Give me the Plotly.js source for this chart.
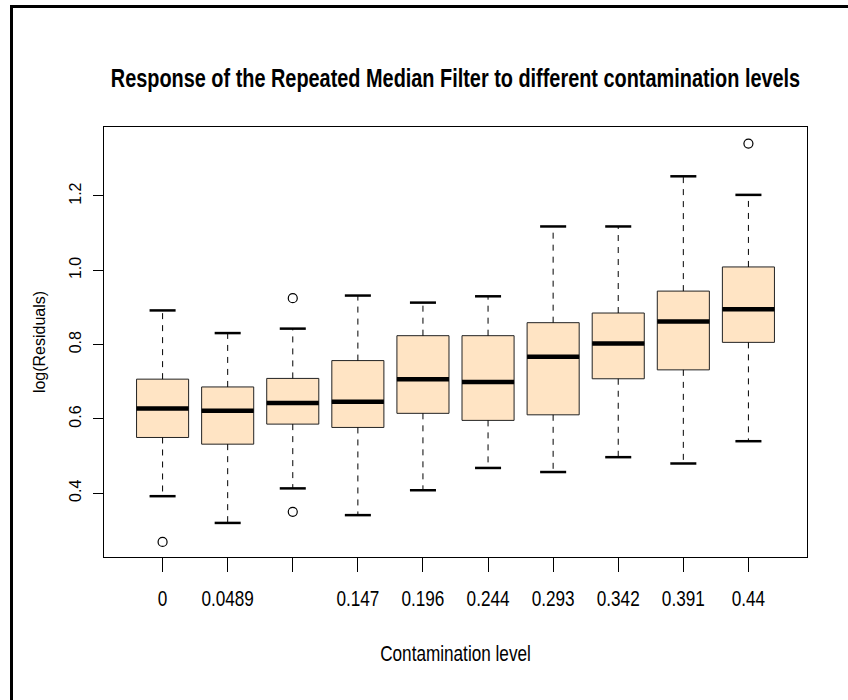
<!DOCTYPE html>
<html>
<head>
<meta charset="utf-8">
<script src="https://cdn.plot.ly/plotly-3.0.1.min.js"></script>
<style>
  html, body { margin: 0; padding: 0; background: #ffffff; }
  #wrap { position: relative; width: 848px; height: 700px; overflow: hidden; }
  #frame { position: absolute; left: 10px; top: 5px; width: 900px; height: 760px;
           border-left: 3px solid #000; border-top: 3px solid #000; pointer-events: none; }
  #chart { position: absolute; left: 0; top: 0; width: 848px; height: 700px; }
</style>
</head>
<body>
<div id="wrap">
  <div id="chart"></div>
  <div id="frame"></div>
</div>
<script>
// ---- data ----
const categories   = ['0', '0.0489', '0.0978', '0.147', '0.196', '0.244', '0.293', '0.342', '0.391', '0.44'];
const tickLabels   = ['0', '0.0489', '', '0.147', '0.196', '0.244', '0.293', '0.342', '0.391', '0.44'];
const lowerWhisker = [0.392, 0.320, 0.413, 0.341, 0.408, 0.468, 0.457, 0.497, 0.480, 0.540];
const q1           = [0.550, 0.532, 0.586, 0.577, 0.615, 0.596, 0.611, 0.708, 0.732, 0.806];
const median       = [0.628, 0.622, 0.643, 0.646, 0.707, 0.699, 0.767, 0.803, 0.862, 0.895];
const q3           = [0.707, 0.686, 0.709, 0.757, 0.824, 0.824, 0.859, 0.885, 0.944, 1.009];
const upperWhisker = [0.892, 0.831, 0.843, 0.932, 0.913, 0.930, 1.118, 1.118, 1.253, 1.203];
const outlierGroup = [0, 2, 2, 9];
const outlierValue = [0.269, 0.925, 0.350, 1.341];
const yTicks       = [0.4, 0.6, 0.8, 1.0, 1.2];

// ---- styling constants ----
const BOX_W = 0.8;      // box width in category units (R boxwex)
const CAP_HALF = 0.2;   // half staple width
const FILL = '#FFE4C4';
const NARROW = 0.78;    // horizontal squeeze applied to horizontal texts
const sans = '"Liberation Sans", Arial, Helvetica, sans-serif';

const pos = categories.map((c, i) => i + 1);

const traces = [];

// box bodies
traces.push({
  type: 'box',
  x: pos,
  q1: q1,
  median: median,
  q3: q3,
  lowerfence: q1,
  upperfence: q3,
  width: BOX_W,
  whiskerwidth: 0,
  fillcolor: FILL,
  line: { color: '#222222', width: 1 },
  boxpoints: false,
  hoverinfo: 'skip',
  showlegend: false
});

function segs(fn) {
  const xs = [], ys = [];
  pos.forEach((p, i) => { const s = fn(p, i); xs.push(s[0], s[1], null); ys.push(s[2], s[3], null); });
  return { xs, ys };
}

// dashed whiskers
const wh = segs((p, i) => [p, p, q3[i], upperWhisker[i]]);
const wl = segs((p, i) => [p, p, q1[i], lowerWhisker[i]]);
traces.push({
  type: 'scatter', mode: 'lines',
  x: wh.xs.concat(wl.xs), y: wh.ys.concat(wl.ys),
  line: { color: '#000', width: 1, dash: '6px,6px' },
  hoverinfo: 'skip', showlegend: false
});

// staples
const cu = segs((p, i) => [p - CAP_HALF, p + CAP_HALF, upperWhisker[i], upperWhisker[i]]);
const cl = segs((p, i) => [p - CAP_HALF, p + CAP_HALF, lowerWhisker[i], lowerWhisker[i]]);
traces.push({
  type: 'scatter', mode: 'lines',
  x: cu.xs.concat(cl.xs), y: cu.ys.concat(cl.ys),
  line: { color: '#000', width: 2.5 },
  hoverinfo: 'skip', showlegend: false
});

// thick medians
const md = segs((p, i) => [p - BOX_W / 2, p + BOX_W / 2, median[i], median[i]]);
traces.push({
  type: 'scatter', mode: 'lines',
  x: md.xs, y: md.ys,
  line: { color: '#000', width: 4.5 },
  hoverinfo: 'skip', showlegend: false
});

// outliers
traces.push({
  type: 'scatter', mode: 'markers',
  x: outlierGroup.map(g => pos[g]), y: outlierValue,
  marker: { symbol: 'circle-open', size: 9, color: '#000', line: { width: 1.2, color: '#000' } },
  hoverinfo: 'skip', showlegend: false
});

const layout = {
  width: 848, height: 700,
  paper_bgcolor: '#ffffff', plot_bgcolor: '#ffffff',
  margin: { l: 104, r: 41, t: 127, b: 143, pad: 0 },
  showlegend: false,
  title: {
    text: '<b>Response of the Repeated Median Filter to different contamination levels</b>',
    font: { family: sans, size: 25.5, color: '#000' },
    x: 0.5, xref: 'paper', xanchor: 'center',
    y: 1 - 78 / 700, yref: 'container', yanchor: 'middle'
  },
  xaxis: {
    range: [0.1, 10.9],
    tickmode: 'array', tickvals: pos, ticktext: tickLabels,
    ticks: 'outside', ticklen: 14, tickwidth: 1, tickcolor: '#000',
    showline: true, mirror: true, linecolor: '#000', linewidth: 1,
    showgrid: false, zeroline: false,
    tickfont: { family: sans, size: 22, color: '#000' },
    ticklabelstandoff: 8,
    title: { text: 'Contamination level', font: { family: sans, size: 22, color: '#000' }, standoff: 35 }
  },
  yaxis: {
    range: [0.2283, 1.3857],
    tickmode: 'array', tickvals: yTicks, tickformat: '.1f',
    tickangle: -90,
    ticks: 'outside', ticklen: 10, tickwidth: 1, tickcolor: '#000',
    showline: true, mirror: true, linecolor: '#000', linewidth: 1,
    showgrid: false, zeroline: false,
    tickfont: { family: sans, size: 16, color: '#000' },
    ticklabelstandoff: 6,
    title: { text: 'log(Residuals)', font: { family: sans, size: 16, color: '#000' }, standoff: 16 }
  }
};

function squeeze(gd) {
  const sel = gd.querySelectorAll('.xtick text, .g-gtitle text, .g-xtitle text');
  sel.forEach(t => {
    const x = parseFloat(t.getAttribute('x')) || 0;
    const prev = t.getAttribute('transform') || '';
    t.setAttribute('transform', prev + ' translate(' + x + ',0) scale(' + NARROW + ',1) translate(' + (-x) + ',0)');
  });
}

Plotly.newPlot('chart', traces, layout, { staticPlot: true, displayModeBar: false }).then(squeeze);
</script>
</body>
</html>
